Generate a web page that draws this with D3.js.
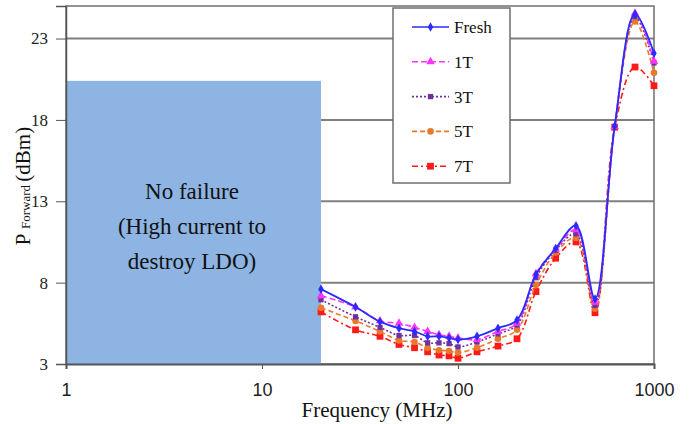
<!DOCTYPE html>
<html>
    <head>
        <title>P Forward vs Frequency</title>
        <meta http-equiv="Content-Type" content="text/html; charset=UTF-8">
        <script src="https://d3js.org/d3.v7.min.js"></script>
        <style>
            body { margin: 0; background: white; }
            .serif { font-family: "Liberation Serif", "Times New Roman", serif; }
            .sans { font-family: "Liberation Sans", Arial, sans-serif; }
        </style>
    </head>
    <body>
        <div id="myGraph"></div>

        <script>
            // data
            var freq = [20, 30, 40, 50, 60, 70, 80, 90, 100, 125, 160, 200, 250, 315, 400, 500, 630, 800, 1000]
            var fresh = [7.6, 6.5, 5.6, 5.2, 5.0, 4.7, 4.7, 4.6, 4.5, 4.7, 5.2, 5.7, 8.5, 10.1, 11.5, 7.0, 17.6, 24.5, 22.1]
            var t1 = [7.2, 6.5, 5.65, 5.5, 5.25, 5.0, 4.8, 4.7, 4.6, 4.5, 5.0, 5.5, 8.55, 10.05, 11.25, 6.8, 17.6, 24.55, 21.6]
            var t3 = [6.95, 5.9, 5.25, 4.75, 4.75, 4.3, 4.3, 4.25, 4.05, 4.35, 4.85, 5.4, 8.3, 10.0, 11.0, 6.6, 17.6, 24.35, 21.5]
            var t5 = [6.45, 5.65, 5.0, 4.45, 4.35, 4.0, 3.85, 3.8, 3.7, 4.0, 4.55, 5.1, 7.85, 9.85, 10.75, 6.4, 17.6, 24.05, 20.9]
            var t7 = [6.2, 5.1, 4.7, 4.2, 4.0, 3.75, 3.55, 3.5, 3.35, 3.75, 4.1, 4.55, 7.45, 9.5, 10.5, 6.15, 17.55, 21.25, 20.1]

            var seriesNames = ["Fresh", "1T", "3T", "5T", "7T"]
            var seriesValues = [fresh, t1, t3, t5, t7]
            var xTicks = [1, 10, 100, 1000]
            var yTicks = [3, 8, 13, 18, 23]

            // no-failure region
            var boxFreq = [1, 20]
            var boxTop = 20.4
            var boxText = ["No failure", "(High current to", "destroy LDO)"]

            // styles for each series
            var colors = ["#2b2bff", "#ff33ff", "#7030a0", "#e8792a", "#ff1a1a"]
            var dashes = [null, "6,3", "2,2", "5,3", "6,3,2,3"]
            var symbols = [d3.symbolDiamond, d3.symbolTriangle, d3.symbolSquare, d3.symbolCircle, d3.symbolSquare]
            var symSize = [26, 32, 28, 34, 46]

            var width = 690
            var height = 424
            var margin = {left: 66, right: 36, top: 6, bottom: 60}

            var svg = d3.select("#myGraph")
                .append("svg")
                .attr("width", width)
                .attr("height", height)

            var x = d3.scaleLog()
                .domain([1, 1000])
                .range([margin.left, width - margin.right])

            var y = d3.scaleLinear()
                .domain([3, 25])
                .range([height - margin.bottom, margin.top])

            // gridlines
            svg.append("g")
                .selectAll("line")
                .data(yTicks.slice(1))
                .enter()
                .append("line")
                .attr("x1", x(1))
                .attr("x2", x(1000))
                .attr("y1", function(d){ return y(d) })
                .attr("y2", function(d){ return y(d) })
                .attr("stroke", "#7f7f7f")
                .attr("stroke-width", 2)

            // plot frame
            svg.append("rect")
                .attr("x", x(1))
                .attr("y", y(25))
                .attr("width", x(1000) - x(1))
                .attr("height", y(3) - y(25))
                .attr("fill", "none")
                .attr("stroke", "#6f6f6f")
                .attr("stroke-width", 1.5)

            // blue box
            svg.append("rect")
                .attr("x", x(boxFreq[0]))
                .attr("y", y(boxTop))
                .attr("width", x(boxFreq[1]) - x(boxFreq[0]))
                .attr("height", y(3) - y(boxTop))
                .attr("fill", "#8db4e2")

            svg.append("g")
                .selectAll("text")
                .data(boxText)
                .enter()
                .append("text")
                .attr("class", "serif")
                .attr("x", 192)
                .attr("y", function(d, i){ return 199 + i * 35 })
                .attr("text-anchor", "middle")
                .style("font-size", "23px")
                .attr("fill", "#111")
                .text(function(d){ return d })

            // axes
            var xAxis = svg.append("g")
                .attr("transform", "translate(0," + y(3) + ")")
                .call(d3.axisBottom(x).tickValues(xTicks).tickFormat(d3.format("d")).tickSize(5).tickPadding(14))
            xAxis.select(".domain").attr("stroke", "#555").attr("stroke-width", 2)
            xAxis.selectAll(".tick line").attr("stroke", "#555")
            xAxis.selectAll("text").attr("class", "sans").style("font-size", "18px").attr("fill", "#222")

            var yAxis = svg.append("g")
                .attr("transform", "translate(" + x(1) + ",0)")
                .call(d3.axisLeft(y).tickValues(yTicks).tickSize(10).tickPadding(8))
            yAxis.select(".domain").attr("stroke", "#555").attr("stroke-width", 1.5)
            yAxis.selectAll(".tick line").attr("stroke", "#555")
            yAxis.selectAll("text").attr("class", "serif").style("font-size", "17px").attr("fill", "#222")

            // axis titles
            svg.append("text")
                .attr("class", "serif")
                .attr("x", 377)
                .attr("y", 417)
                .attr("text-anchor", "middle")
                .style("font-size", "21px")
                .attr("fill", "#111")
                .text("Frequency (MHz)")

            var ylab = svg.append("text")
                .attr("class", "serif")
                .attr("transform", "translate(30,186) rotate(-90)")
                .attr("text-anchor", "middle")
                .attr("fill", "#111")
                .style("font-size", "21px")
            ylab.append("tspan").text("P ")
            ylab.append("tspan").style("font-size", "13px").text("Forward ")
            ylab.append("tspan").text("(dBm)")

            // lines
            var line = d3.line()
                .x(function(d){ return x(d[0]) })
                .y(function(d){ return y(d[1]) })
                .curve(d3.curveCatmullRom.alpha(0.5))

            var order = [4, 3, 2, 1, 0]
            order.forEach(function(i) {
                var pts = freq.map(function(f, j){ return [f, seriesValues[i][j]] })
                svg.append("path")
                    .datum(pts)
                    .attr("d", line)
                    .attr("fill", "none")
                    .attr("stroke", colors[i])
                    .attr("stroke-width", i == 0 ? 1.8 : 1.6)
                    .attr("stroke-dasharray", dashes[i])
                svg.append("g")
                    .selectAll("path")
                    .data(pts)
                    .enter()
                    .append("path")
                    .attr("transform", function(d){ return "translate(" + x(d[0]) + "," + y(d[1]) + ")" })
                    .attr("d", d3.symbol().type(symbols[i]).size(symSize[i]))
                    .attr("fill", colors[i])
            })

            // legend
            var legend = svg.append("g")
            legend.append("rect")
                .attr("x", 393)
                .attr("y", 8)
                .attr("width", 117)
                .attr("height", 175)
                .attr("fill", "white")
                .attr("stroke", "#6f6f6f")
                .attr("stroke-width", 1.5)

            var item = legend.selectAll(".item")
                .data(seriesNames)
                .enter()
                .append("g")
                .attr("transform", function(d, i){ return "translate(0," + (27 + i * 34.8) + ")" })

            item.append("line")
                .attr("x1", 412)
                .attr("x2", 449)
                .attr("stroke", function(d, i){ return colors[i] })
                .attr("stroke-width", 1.6)
                .attr("stroke-dasharray", function(d, i){ return dashes[i] })
            item.append("path")
                .attr("transform", "translate(430.5,0)")
                .attr("d", function(d, i){ return d3.symbol().type(symbols[i]).size(symSize[i])() })
                .attr("fill", function(d, i){ return colors[i] })
            item.append("text")
                .attr("class", "serif")
                .attr("x", 454)
                .attr("dy", "0.35em")
                .style("font-size", "17px")
                .attr("fill", "#111")
                .text(function(d){ return d })
        </script>
    </body>
</html>
